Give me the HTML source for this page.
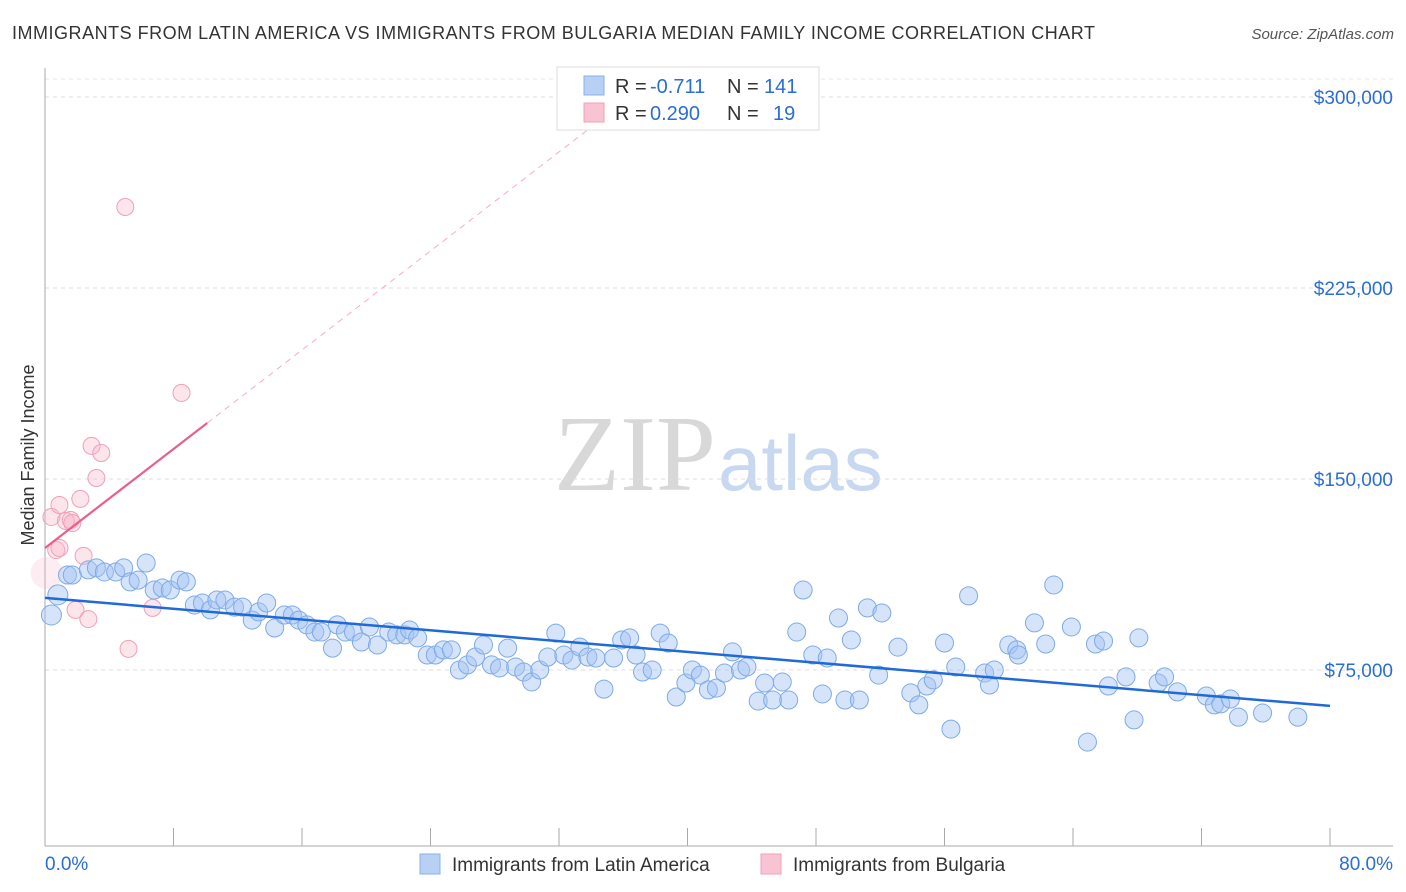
<!DOCTYPE html>
<html><head><meta charset="utf-8"><style>
body{margin:0;background:#fff;width:1406px;height:892px;overflow:hidden;font-family:"Liberation Sans",sans-serif}
svg{position:absolute;left:0;top:0}
</style></head><body>
<svg id="c" width="1406" height="892">
<text x="12" y="39" font-size="18" fill="#333" textLength="1083">IMMIGRANTS FROM LATIN AMERICA VS IMMIGRANTS FROM BULGARIA MEDIAN FAMILY INCOME CORRELATION CHART</text>
<text x="1394" y="39" font-size="15" fill="#555" font-style="italic" text-anchor="end">Source: ZipAtlas.com</text>
<text x="34" y="455" font-size="18" fill="#333" text-anchor="middle" transform="rotate(-90 34 455)">Median Family Income</text>
<text x="716" y="490" font-size="108" fill="#d8d8d8" text-anchor="end" font-family="Liberation Serif,serif">ZIP</text>
<text x="718" y="490" font-size="78" fill="#c8d8f0">atlas</text>
<g id="grid"></g><g id="pts"></g><g id="trend"></g>
<g>
<rect x="557" y="67" width="262" height="63" fill="#fff" stroke="#ddd"/>
<rect x="584" y="76" width="20" height="19" fill="#b8d0f4" stroke="#8ab0e8"/>
<rect x="584" y="103" width="20" height="19" fill="#f8c4d4" stroke="#f0a0b8"/>
<text x="615" y="93" font-size="20" fill="#333">R =</text>
<text x="650" y="93" font-size="20" fill="#2a6dd9">-0.711</text>
<text x="727" y="93" font-size="20" fill="#333">N =</text>
<text x="764" y="93" font-size="20" fill="#2a6dd9">141</text>
<text x="615" y="120" font-size="20" fill="#333">R =</text>
<text x="650" y="120" font-size="20" fill="#2a6dd9">0.290</text>
<text x="727" y="120" font-size="20" fill="#333">N =</text>
<text x="773" y="120" font-size="20" fill="#2a6dd9">19</text>
</g>
<g>
<rect x="420" y="854" width="20" height="20" fill="#b8d0f4" stroke="#8ab0e8"/>
<text x="452" y="871" font-size="19" fill="#333">Immigrants from Latin America</text>
<rect x="761" y="854" width="20" height="20" fill="#f8c4d4" stroke="#f0a0b8"/>
<text x="793" y="871" font-size="19" fill="#333">Immigrants from Bulgaria</text>
</g>
</svg>
<script>
const yTicks=[75000,150000,225000,300000];
const xTickLabels=["0.0%","80.0%"];
const blueX=[0.4,0.8,1.4,1.7,2.7,3.2,3.7,4.4,4.9,5.3,5.8,6.3,6.8,7.3,7.8,8.4,8.8,9.3,9.8,10.3,10.7,11.2,11.8,12.3,12.9,13.3,13.8,14.3,14.9,15.4,15.8,16.3,16.8,17.2,17.9,18.2,18.7,19.2,19.7,20.2,20.7,21.4,21.9,22.4,22.7,23.2,23.8,24.3,24.8,25.3,25.8,26.3,26.8,27.3,27.8,28.3,28.8,29.3,29.8,30.3,30.8,31.3,31.8,32.3,32.8,33.3,33.8,34.3,34.8,35.4,35.9,36.4,36.8,37.2,37.8,38.3,38.8,39.3,39.9,40.3,40.8,41.3,41.8,42.3,42.8,43.3,43.7,44.4,44.8,45.3,45.9,46.3,46.8,47.2,47.8,48.4,48.7,49.4,49.8,50.2,50.7,51.2,51.9,52.1,53.1,53.9,54.4,54.9,55.3,56.0,56.4,56.7,57.5,58.5,58.8,59.1,60.0,60.5,60.6,61.6,62.3,62.8,63.9,64.9,65.4,65.9,66.2,67.3,67.8,68.1,69.3,69.7,70.5,72.3,72.8,73.2,73.8,74.3,75.8,78.0];
const blueY=[96.6,104.5,112.3,112.3,114.3,115.1,113.5,113.5,115.1,109.6,110.3,117.0,106.4,107.2,106.4,110.3,109.6,100.5,101.3,98.6,102.5,102.5,99.7,99.7,94.6,97.8,101.3,91.5,96.6,96.6,94.6,92.7,89.9,89.9,83.6,92.7,89.9,89.9,86.0,91.9,84.8,89.9,88.8,88.8,90.7,87.6,80.9,80.9,82.9,82.9,75.0,77.0,80.1,84.8,77.0,75.8,83.6,76.2,74.2,70.3,75.0,80.1,89.5,80.9,78.9,84.0,80.1,79.7,67.5,79.7,86.8,87.6,80.9,74.2,75.0,89.5,85.6,64.4,69.9,75.0,73.0,67.2,67.9,73.8,82.1,75.0,76.2,62.8,69.9,63.2,70.3,63.2,89.9,106.4,80.9,65.6,79.7,95.4,63.2,86.8,63.2,99.4,73.0,97.4,84.0,66.0,61.3,68.7,71.1,85.6,51.8,76.2,104.1,73.8,69.1,75.0,84.8,82.9,80.9,93.5,85.2,108.4,91.9,46.7,85.2,86.4,68.7,72.3,55.4,87.6,69.9,72.3,66.4,64.8,61.3,61.7,63.6,56.5,58.1,56.5];
const pinkX=[0.1,0.4,0.9,1.6,1.3,1.7,2.2,2.9,3.5,3.2,2.4,0.7,0.9,1.9,2.7,5.0,8.5,6.7,5.2];
const pinkY=[113.1,135.1,139.8,133.9,133.5,132.7,142.2,163.0,160.2,150.4,119.8,122.1,122.9,98.6,95.0,256.8,183.8,99.4,83.3];
const blueTrend=[103.3,60.9];
const pinkTrend=[122.9,4.86];
const pinkSolidEnd=10.1, pinkDashEnd=33.9;

const NS="http://www.w3.org/2000/svg";
const X=p=>45+p/80*1285;
const Y=v=>861-v/75000*191;
function mk(t,a,parent){const e=document.createElementNS(NS,t);for(const k in a)e.setAttribute(k,a[k]);document.getElementById(parent).appendChild(e);return e;}
yTicks.forEach(v=>{
 const l=mk('line',{x1:45,x2:1393,y1:Y(v),y2:Y(v),stroke:'#ddd','stroke-dasharray':'4,4'},'grid');
 
 
 const t=mk('text',{x:1393,y:Y(v)+7,'font-size':19,fill:'#2a6dd9','text-anchor':'end'},'grid');
 t.textContent='$'+v.toLocaleString('en-US');
 
 
});
const topLine=mk('line',{x1:45,x2:1393,y1:79,y2:79,stroke:'#e4e4e4','stroke-dasharray':'4,4'},'grid');


const ya=mk('line',{x1:45,x2:45,y1:68,y2:846,stroke:'#aaa'},'grid');


const xa=mk('line',{x1:45,x2:1393,y1:846,y2:846,stroke:'#aaa'},'grid');


for(let i=0;i<=10;i++){
 const tk=mk('line',{x1:X(i*8),x2:X(i*8),y1:828,y2:846,stroke:'#aaa'},'grid');
 
 
}
[[0,'start',45],[1,'end',1393]].forEach(([i,a,x])=>{
 const t=mk('text',{x:x,y:870,'font-size':19,fill:'#2a6dd9','text-anchor':a},'grid');
 t.textContent=xTickLabels[i];
 
 
});
pinkX.forEach((p,i)=>{
 const c=mk('circle',{cx:X(p),cy:Y(pinkY[i]*1000),r:i===0?16:8.5,fill:i===0?'rgba(248,180,200,0.25)':'rgba(248,180,200,0.35)',stroke:i===0?'none':'#f0a0b8','stroke-width':1},'pts');
 
 
});
blueX.forEach((p,i)=>{
 const c=mk('circle',{cx:X(p),cy:Y(blueY[i]*1000),r:i<2?10:9,fill:'rgba(164,196,244,0.45)',stroke:'#7eaae8','stroke-width':1},'pts');
 
 
});
const bt=mk('line',{x1:X(0),y1:Y(blueTrend[0]*1000),x2:X(80),y2:Y(blueTrend[1]*1000),stroke:'#1f6ad8','stroke-width':2.5},'trend');


const pv=p=>(pinkTrend[0]+pinkTrend[1]*p)*1000;
const pt=mk('line',{x1:X(0),y1:Y(pv(0)),x2:X(pinkSolidEnd),y2:Y(pv(pinkSolidEnd)),stroke:'#e8608a','stroke-width':2.2},'trend');


const pd=mk('line',{x1:X(pinkSolidEnd),y1:Y(pv(pinkSolidEnd)),x2:X(pinkDashEnd),y2:Y(pv(pinkDashEnd)),stroke:'#f0b0c4','stroke-width':1,'stroke-dasharray':'6,5'},'trend');


</script>
</body></html>
